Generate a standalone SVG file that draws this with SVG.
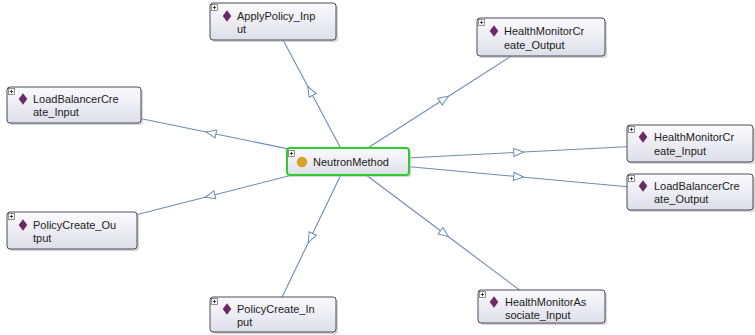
<svg xmlns="http://www.w3.org/2000/svg" width="755" height="335" viewBox="0 0 755 335">
  <defs>
    <linearGradient id="boxFill" x1="0" y1="0" x2="0" y2="1">
      <stop offset="0" stop-color="#fbfbfe"/>
      <stop offset="1" stop-color="#dedee9"/>
    </linearGradient>
    <marker id="openArrow" viewBox="0 0 12 10" refX="6" refY="5" markerWidth="12" markerHeight="10" markerUnits="userSpaceOnUse" orient="auto">
      <path d="M1,1 L11,5 L1,9 Z" fill="#ffffff" stroke="#6d8db0" stroke-width="1"/>
    </marker>
    <g id="plusIcon">
      <rect x="0.5" y="0.5" width="6" height="6" fill="#ffffff" stroke="#777777" stroke-width="0.8"/>
      <path d="M1.8,3.5 H5.2 M3.5,1.8 V5.2" stroke="#333333" stroke-width="0.9"/>
    </g>
    <path id="diamond" d="M0,-5.8 L4.3,0 L0,5.8 L-4.3,0 Z" fill="#6b2a66"/>
  </defs>
  <style>
    .edge { fill: none; stroke: #6d8db0; stroke-width: 1.1; marker-mid: url(#openArrow); }
    .shadow { fill: #b8b8c0; opacity: 0.6; }
    .box { fill: url(#boxFill); stroke: #4a4a55; stroke-width: 1; }
    .root { fill: url(#boxFill); stroke: #2fcc2f; stroke-width: 2; }
    .label { font-family: "Liberation Sans", Arial, sans-serif; font-size: 11px; fill: #1c1c1c; }
  </style>

  <!-- connectors: centre of NeutronMethod to centre of each class, arrow at midpoint -->
  <g id="connectors">
    <polyline class="edge" points="347.5,161 310.25,91 273,21"/>
    <polyline class="edge" points="347.5,161 444.25,99 541,37"/>
    <polyline class="edge" points="347.5,161 211,133 74.5,105"/>
    <polyline class="edge" points="347.5,161 518.75,152.25 690,143.5"/>
    <polyline class="edge" points="347.5,161 518.75,176.75 690,192.5"/>
    <polyline class="edge" points="347.5,161 210,196 72.5,231"/>
    <polyline class="edge" points="347.5,161 310.5,238 273.5,315"/>
    <polyline class="edge" points="347.5,161 444.5,233.75 541.5,306.5"/>
  </g>

  <g id="ApplyPolicy_Input">
    <rect class="shadow" x="212" y="5" width="126" height="37" rx="3"/>
    <rect class="box" x="210" y="3" width="126" height="37" rx="3"/>
    <use href="#plusIcon" x="211" y="4"/>
    <use href="#diamond" x="227" y="16"/>
    <text class="label" x="237" y="20">ApplyPolicy_Inp</text>
    <text class="label" x="237" y="33">ut</text>
  </g>

  <g id="HealthMonitorCreate_Output">
    <rect class="shadow" x="479" y="20" width="128" height="38" rx="3"/>
    <rect class="box" x="477" y="18" width="128" height="38" rx="3"/>
    <use href="#plusIcon" x="478" y="19"/>
    <use href="#diamond" x="494" y="31"/>
    <text class="label" x="504" y="35">HealthMonitorCr</text>
    <text class="label" x="504" y="49">eate_Output</text>
  </g>

  <g id="LoadBalancerCreate_Input">
    <rect class="shadow" x="9" y="89" width="134" height="36" rx="3"/>
    <rect class="box" x="7" y="87" width="134" height="36" rx="3"/>
    <use href="#plusIcon" x="8" y="88"/>
    <use href="#diamond" x="23" y="99"/>
    <text class="label" x="33" y="103">LoadBalancerCre</text>
    <text class="label" x="33" y="116">ate_Input</text>
  </g>

  <g id="HealthMonitorCreate_Input">
    <rect class="shadow" x="629" y="127" width="126" height="37" rx="3"/>
    <rect class="box" x="627" y="125" width="126" height="37" rx="3"/>
    <use href="#plusIcon" x="628" y="126"/>
    <use href="#diamond" x="643" y="137"/>
    <text class="label" x="654" y="141">HealthMonitorCr</text>
    <text class="label" x="654" y="155">eate_Input</text>
  </g>

  <g id="LoadBalancerCreate_Output">
    <rect class="shadow" x="629" y="176" width="126" height="36" rx="3"/>
    <rect class="box" x="627" y="174" width="126" height="36" rx="3"/>
    <use href="#plusIcon" x="628" y="175"/>
    <use href="#diamond" x="643" y="186"/>
    <text class="label" x="654" y="190">LoadBalancerCre</text>
    <text class="label" x="654" y="203">ate_Output</text>
  </g>

  <g id="PolicyCreate_Output">
    <rect class="shadow" x="9" y="214" width="130" height="37" rx="3"/>
    <rect class="box" x="7" y="212" width="130" height="37" rx="3"/>
    <use href="#plusIcon" x="8" y="213"/>
    <use href="#diamond" x="23" y="225"/>
    <text class="label" x="33" y="229">PolicyCreate_Ou</text>
    <text class="label" x="33" y="242">tput</text>
  </g>

  <g id="PolicyCreate_Input">
    <rect class="shadow" x="212" y="299" width="126" height="35" rx="3"/>
    <rect class="box" x="210" y="297" width="126" height="35" rx="3"/>
    <use href="#plusIcon" x="211" y="298"/>
    <use href="#diamond" x="227" y="309"/>
    <text class="label" x="237" y="313">PolicyCreate_In</text>
    <text class="label" x="237" y="326">put</text>
  </g>

  <g id="HealthMonitorAssociate_Input">
    <rect class="shadow" x="480" y="292" width="127" height="33" rx="3"/>
    <rect class="box" x="478" y="290" width="127" height="33" rx="3"/>
    <use href="#plusIcon" x="479" y="291"/>
    <use href="#diamond" x="494" y="302"/>
    <text class="label" x="505" y="306">HealthMonitorAs</text>
    <text class="label" x="505" y="319">sociate_Input</text>
  </g>

  <g id="NeutronMethod">
    <rect class="shadow" x="288" y="150" width="123" height="27" rx="3"/>
    <rect class="root" x="287" y="148" width="122" height="27" rx="3"/>
    <use href="#plusIcon" x="288" y="150"/>
    <circle cx="302" cy="162" r="5.2" fill="#d6a326"/>
    <text class="label" x="313" y="166" textLength="76" lengthAdjust="spacingAndGlyphs">NeutronMethod</text>
  </g>
</svg>
